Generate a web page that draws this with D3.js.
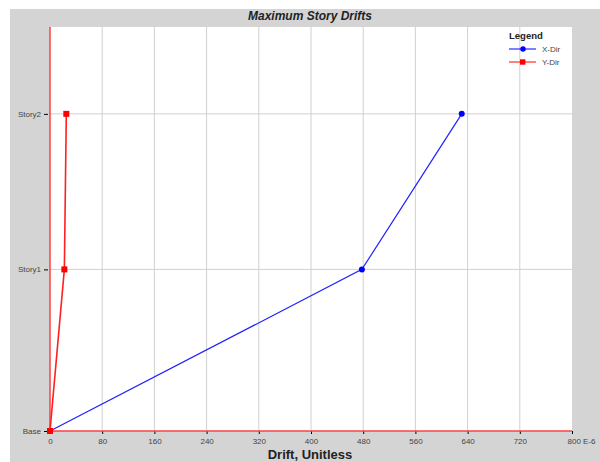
<!DOCTYPE html>
<html>
<head>
<meta charset="utf-8">
<script src="https://cdn.jsdelivr.net/npm/d3@7"></script>
<style>
  body { margin: 0; background: #fff; }
  svg { display: block; font-family: 'Liberation Sans', Arial, sans-serif; }
</style>
</head>
<body>
<svg></svg>
<script>
let svgWidth = 600
let svgHeight = 462

// data
let stories = ['Base', 'Story1', 'Story2']
let elevations = [0, 4, 7.85]
let xDrift = [0, 478, 631]   // E-6
let yDrift = [0, 22, 25]     // E-6
let xTicks = [0, 80, 160, 240, 320, 400, 480, 560, 640, 720, 800]

let plot = { left: 50, right: 572, top: 27, bottom: 431 }

let svg = d3.select('svg')
    .attr('width', svgWidth)
    .attr('height', svgHeight)

/* grey panel */
svg.append('rect')
    .attr('x', 10).attr('y', 9)
    .attr('width', svgWidth - 10).attr('height', svgHeight - 9)
    .attr('fill', '#d4d4d4')

/* plot area */
svg.append('rect')
    .attr('x', plot.left).attr('y', plot.top)
    .attr('width', plot.right - plot.left).attr('height', plot.bottom - plot.top)
    .attr('fill', '#fff')

let xScale = d3.scaleLinear().domain([0, 800]).range([plot.left, plot.right])
let yScale = d3.scaleLinear().domain([0, 10]).range([plot.bottom, plot.top])

/* grid */
svg.append('g')
  .selectAll('line')
  .data(xTicks.slice(1, -1))
  .join('line')
    .attr('x1', d => xScale(d)).attr('x2', d => xScale(d))
    .attr('y1', plot.top).attr('y2', plot.bottom)
    .attr('stroke', '#d0d0d0')

svg.append('g')
  .selectAll('line')
  .data(elevations.slice(1))
  .join('line')
    .attr('x1', plot.left).attr('x2', plot.right)
    .attr('y1', d => yScale(d)).attr('y2', d => yScale(d))
    .attr('stroke', '#d0d0d0')

/* x axis */
let xAxis = d3.axisBottom(xScale)
    .tickValues(xTicks)
    .tickSize(4)
    .tickFormat(d => d === 800 ? '800 E-6' : d)

let gx = svg.append('g')
    .attr('transform', `translate(0, ${plot.bottom})`)
    .call(xAxis)
gx.select('.domain').remove()
gx.selectAll('line').attr('stroke', '#000').attr('y1', 0).attr('y2', 3)
gx.selectAll('text')
    .attr('y', 7)
    .attr('fill', '#444')
    .style('font-size', '8px')
gx.selectAll('.tick').filter(d => d === 800).select('text')
    .attr('text-anchor', 'start')
    .attr('x', -5)

/* y axis */
let yAxis = d3.axisLeft(yScale)
    .tickValues(elevations)
    .tickSize(4)
    .tickFormat((d, i) => stories[i])

let gy = svg.append('g')
    .attr('transform', `translate(${plot.left - 2}, 0)`)
    .call(yAxis)
gy.select('.domain').remove()
gy.selectAll('line').attr('stroke', '#000')
gy.selectAll('text')
    .attr('x', -7)
    .attr('fill', '#444')
    .style('font-size', '8px')

/* red frame lines */
svg.append('line')
    .attr('x1', plot.left).attr('x2', plot.left)
    .attr('y1', plot.top).attr('y2', plot.bottom)
    .attr('stroke', '#ff4040').attr('stroke-width', 1.5)
svg.append('line')
    .attr('x1', plot.left).attr('x2', plot.right)
    .attr('y1', plot.bottom).attr('y2', plot.bottom)
    .attr('stroke', '#ff4040').attr('stroke-width', 1.5)

let line = d3.line()
    .x(d => xScale(d[0]))
    .y(d => yScale(d[1]))

/* X-Dir */
let xPts = xDrift.map((v, i) => [v, elevations[i]])
svg.append('path')
    .datum(xPts)
    .attr('d', line)
    .attr('fill', 'none')
    .attr('stroke', '#2020ff')
    .attr('stroke-width', 1.2)
svg.append('g')
  .selectAll('circle')
  .data(xPts)
  .join('circle')
    .attr('cx', d => xScale(d[0]))
    .attr('cy', d => yScale(d[1]))
    .attr('r', 3)
    .attr('fill', '#0000ff')

/* Y-Dir */
let yPts = yDrift.map((v, i) => [v, elevations[i]])
svg.append('path')
    .datum(yPts)
    .attr('d', line)
    .attr('fill', 'none')
    .attr('stroke', '#ff2020')
    .attr('stroke-width', 1.6)
svg.append('g')
  .selectAll('rect')
  .data(yPts)
  .join('rect')
    .attr('x', d => xScale(d[0]) - 3)
    .attr('y', d => yScale(d[1]) - 3)
    .attr('width', 6).attr('height', 6)
    .attr('fill', '#ff0000')

/* title and axis label */
svg.append('text')
    .attr('x', 310).attr('y', 20)
    .attr('text-anchor', 'middle')
    .style('font-size', '12px')
    .style('font-weight', 'bold')
    .style('font-style', 'italic')
    .attr('fill', '#222')
    .text('Maximum Story Drifts')

svg.append('text')
    .attr('x', 310).attr('y', 459)
    .attr('text-anchor', 'middle')
    .style('font-size', '13px')
    .style('font-weight', 'bold')
    .attr('fill', '#222')
    .text('Drift, Unitless')

/* legend */
let legend = svg.append('g').attr('transform', 'translate(509, 0)')
legend.append('text')
    .attr('x', 0).attr('y', 39)
    .style('font-size', '9.5px')
    .style('font-weight', 'bold')
    .attr('fill', '#222')
    .text('Legend')

let series = [
  { name: 'X-Dir', color: '#0000ff', shape: 'circle' },
  { name: 'Y-Dir', color: '#ff0000', shape: 'square' }
]
series.forEach((s, i) => {
  let y = 49 + i * 13
  legend.append('line')
      .attr('x1', 0).attr('x2', 27)
      .attr('y1', y).attr('y2', y)
      .attr('stroke', s.color)
  if (s.shape === 'circle') {
    legend.append('circle').attr('cx', 14).attr('cy', y).attr('r', 2.7).attr('fill', s.color)
  } else {
    legend.append('rect').attr('x', 11).attr('y', y - 2.7).attr('width', 5.4).attr('height', 5.4).attr('fill', s.color)
  }
  legend.append('text')
      .attr('x', 33).attr('y', y + 2.5)
      .style('font-size', '8px')
      .attr('fill', '#444')
      .text(s.name)
})
</script>
</body>
</html>
